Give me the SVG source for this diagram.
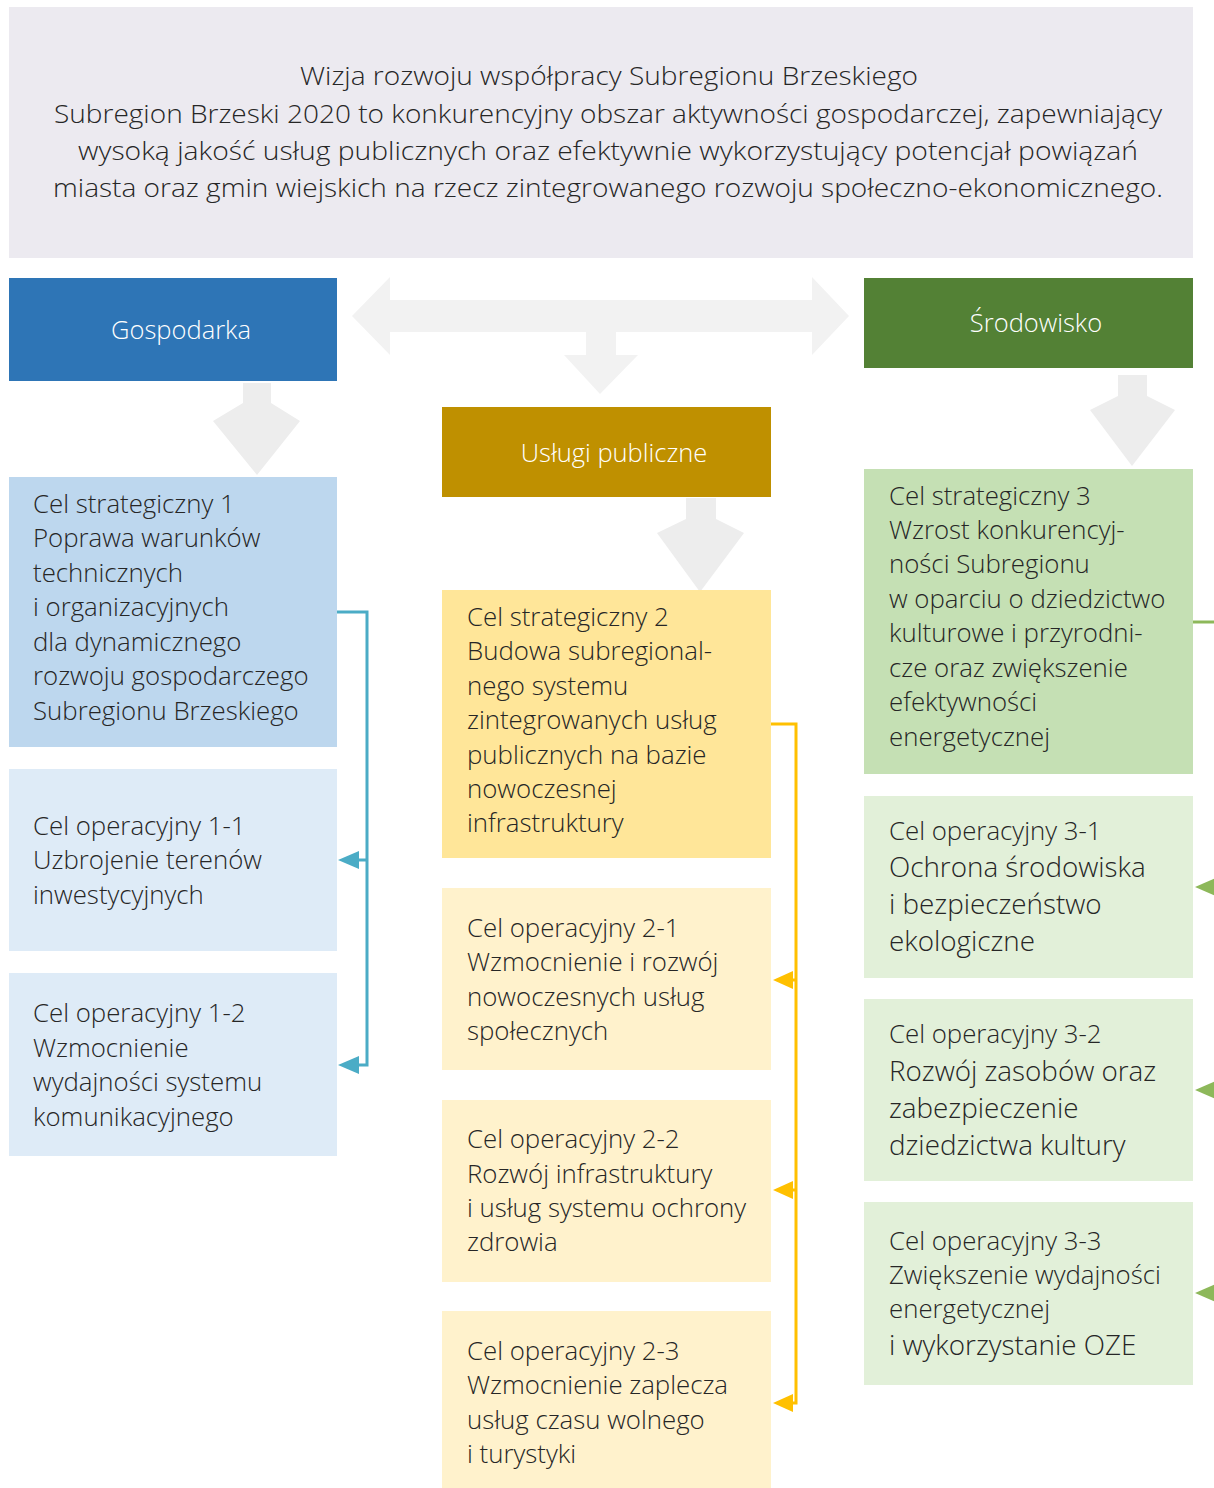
<svg xmlns="http://www.w3.org/2000/svg" width="1214" height="1488" viewBox="0 0 1214 1488">
<style>
text{font-family:"Open Sans","Noto Sans","Liberation Sans",sans-serif;font-weight:300;fill:#262626}
.hd{font-size:26px}
.t{font-size:25.8px}
.tl{font-size:27.8px}
.w{fill:#ffffff;font-size:25.5px}
.bigarrow{fill:#F2F2F2}
.darrow{fill:#EDEDED}
</style>
<rect width="1214" height="1488" fill="#ffffff"/>

<g id="vision">
<rect x="9" y="7" width="1184" height="251" fill="#ECEAF0"/>
<text class="hd" text-anchor="middle" x="609" y="85" textLength="618" lengthAdjust="spacingAndGlyphs">Wizja rozwoju współpracy Subregionu Brzeskiego</text>
<text class="hd" text-anchor="middle" x="608" y="123" textLength="1108" lengthAdjust="spacingAndGlyphs">Subregion Brzeski 2020 to konkurencyjny obszar aktywności gospodarczej, zapewniający</text>
<text class="hd" text-anchor="middle" x="608" y="160" textLength="1060" lengthAdjust="spacingAndGlyphs">wysoką jakość usług publicznych oraz efektywnie wykorzystujący potencjał powiązań</text>
<text class="hd" text-anchor="middle" x="608" y="197" textLength="1110" lengthAdjust="spacingAndGlyphs">miasta oraz gmin wiejskich na rzecz zintegrowanego rozwoju społeczno-ekonomicznego.</text>
</g>

<g id="arrows-big">
<polygon class="bigarrow" points="352,316 390,277 390,300 812,300 812,277 849,316 812,355 812,332 616,332 616,355 638,355 600,394 564,355 586,355 586,332 390,332 390,355"/>
<polygon class="darrow" points="243,383 271,383 271,403 300,421 257,475 213,421 243,403"/>
<polygon class="darrow" points="686,498 716,498 716,519 744,533 700,592 657,533 686,519"/>
<polygon class="darrow" points="1118,375 1147,375 1147,396 1175,410 1132,466 1090,410 1118,396"/>
</g>

<g id="gospodarka">
<rect x="9" y="278" width="328" height="103" fill="#2E75B6"/>
<text class="w" text-anchor="middle" x="181" y="339">Gospodarka</text>
</g>
<g id="srodowisko">
<rect x="864" y="278" width="329" height="90" fill="#538135"/>
<text class="w" text-anchor="middle" x="1036" y="332">Środowisko</text>
</g>
<g id="uslugi">
<rect x="442" y="407" width="329" height="90" fill="#BF9000"/>
<text class="w" text-anchor="middle" x="614" y="462">Usługi publiczne</text>
</g>

<g id="cs1">
<rect x="9" y="477" width="328" height="270" fill="#BDD7EE"/>
<text class="t" x="33" y="513">Cel strategiczny 1</text>
<text class="t" x="33" y="547">Poprawa warunków</text>
<text class="t" x="33" y="582">technicznych</text>
<text class="t" x="33" y="616">i organizacyjnych</text>
<text class="t" x="33" y="651">dla dynamicznego</text>
<text class="t" x="33" y="685">rozwoju gospodarczego</text>
<text class="t" x="33" y="720">Subregionu Brzeskiego</text>
</g>
<g id="co1-1">
<rect x="9" y="769" width="328" height="182" fill="#DEEBF7"/>
<text class="t" x="33" y="835">Cel operacyjny 1-1</text>
<text class="t" x="33" y="869">Uzbrojenie terenów</text>
<text class="t" x="33" y="904">inwestycyjnych</text>
</g>
<g id="co1-2">
<rect x="9" y="973" width="328" height="183" fill="#DEEBF7"/>
<text class="t" x="33" y="1022">Cel operacyjny 1-2</text>
<text class="t" x="33" y="1057">Wzmocnienie</text>
<text class="t" x="33" y="1091">wydajności systemu</text>
<text class="t" x="33" y="1126">komunikacyjnego</text>
</g>

<g id="cs2">
<rect x="442" y="590" width="329" height="268" fill="#FFE699"/>
<text class="t" x="467" y="626">Cel strategiczny 2</text>
<text class="t" x="467" y="660">Budowa subregional-</text>
<text class="t" x="467" y="695">nego systemu</text>
<text class="t" x="467" y="729">zintegrowanych usług</text>
<text class="t" x="467" y="764">publicznych na bazie</text>
<text class="t" x="467" y="798">nowoczesnej</text>
<text class="t" x="467" y="832">infrastruktury</text>
</g>
<g id="co2-1">
<rect x="442" y="888" width="329" height="182" fill="#FFF2CC"/>
<text class="t" x="467" y="937">Cel operacyjny 2-1</text>
<text class="t" x="467" y="971">Wzmocnienie i rozwój</text>
<text class="t" x="467" y="1006">nowoczesnych usług</text>
<text class="t" x="467" y="1040">społecznych</text>
</g>
<g id="co2-2">
<rect x="442" y="1100" width="329" height="182" fill="#FFF2CC"/>
<text class="t" x="467" y="1148">Cel operacyjny 2-2</text>
<text class="t" x="467" y="1183">Rozwój infrastruktury</text>
<text class="t" x="467" y="1217">i usług systemu ochrony</text>
<text class="t" x="467" y="1251">zdrowia</text>
</g>
<g id="co2-3">
<rect x="442" y="1311" width="329" height="177" fill="#FFF2CC"/>
<text class="t" x="467" y="1360">Cel operacyjny 2-3</text>
<text class="t" x="467" y="1394">Wzmocnienie zaplecza</text>
<text class="t" x="467" y="1429">usług czasu wolnego</text>
<text class="t" x="467" y="1463">i turystyki</text>
</g>

<g id="cs3">
<rect x="864" y="469" width="329" height="305" fill="#C5E0B4"/>
<text class="t" x="889" y="505">Cel strategiczny 3</text>
<text class="t" x="889" y="539">Wzrost konkurencyj-</text>
<text class="t" x="889" y="573">ności Subregionu</text>
<text class="t" x="889" y="608">w oparciu o dziedzictwo</text>
<text class="t" x="889" y="642">kulturowe i przyrodni-</text>
<text class="t" x="889" y="677">cze oraz zwiększenie</text>
<text class="t" x="889" y="711">efektywności</text>
<text class="t" x="889" y="746">energetycznej</text>
</g>
<g id="co3-1">
<rect x="864" y="796" width="329" height="182" fill="#E2F0D9"/>
<text class="t" x="889" y="840">Cel operacyjny 3-1</text>
<text class="tl" x="889" y="877">Ochrona środowiska</text>
<text class="tl" x="889" y="914">i bezpieczeństwo</text>
<text class="tl" x="889" y="951">ekologiczne</text>
</g>
<g id="co3-2">
<rect x="864" y="999" width="329" height="182" fill="#E2F0D9"/>
<text class="t" x="889" y="1043">Cel operacyjny 3-2</text>
<text class="tl" x="889" y="1081">Rozwój zasobów oraz</text>
<text class="tl" x="889" y="1118">zabezpieczenie</text>
<text class="tl" x="889" y="1155">dziedzictwa kultury</text>
</g>
<g id="co3-3">
<rect x="864" y="1202" width="329" height="183" fill="#E2F0D9"/>
<text class="t" x="889" y="1250">Cel operacyjny 3-3</text>
<text class="t" x="889" y="1284">Zwiększenie wydajności</text>
<text class="t" x="889" y="1318">energetycznej</text>
<text class="tl" x="889" y="1355">i wykorzystanie OZE</text>
</g>

<g id="connectors">
<polyline points="337,612 367,612 367,1065 356,1065" fill="none" stroke="#4BACC6" stroke-width="3"/>
<line x1="367" y1="860" x2="356" y2="860" stroke="#4BACC6" stroke-width="3"/>
<polygon points="338,860 359,851 359,869" fill="#4BACC6"/>
<polygon points="338,1065 359,1056 359,1074" fill="#4BACC6"/>

<polyline points="771,724 796,724 796,1403 788,1403" fill="none" stroke="#FFC000" stroke-width="3"/>
<line x1="796" y1="980" x2="788" y2="980" stroke="#FFC000" stroke-width="3"/>
<line x1="796" y1="1190" x2="788" y2="1190" stroke="#FFC000" stroke-width="3"/>
<polygon points="773,980 793,971 793,989" fill="#FFC000"/>
<polygon points="773,1190 793,1181 793,1199" fill="#FFC000"/>
<polygon points="773,1403 793,1394 793,1412" fill="#FFC000"/>

<line x1="1193" y1="622" x2="1214" y2="622" stroke="#8DB85A" stroke-width="3"/>
<polygon points="1195,887 1216,878 1216,896" fill="#8DB85A"/>
<polygon points="1195,1090 1216,1081 1216,1099" fill="#8DB85A"/>
<polygon points="1195,1293 1216,1284 1216,1302" fill="#8DB85A"/>
</g>
</svg>
